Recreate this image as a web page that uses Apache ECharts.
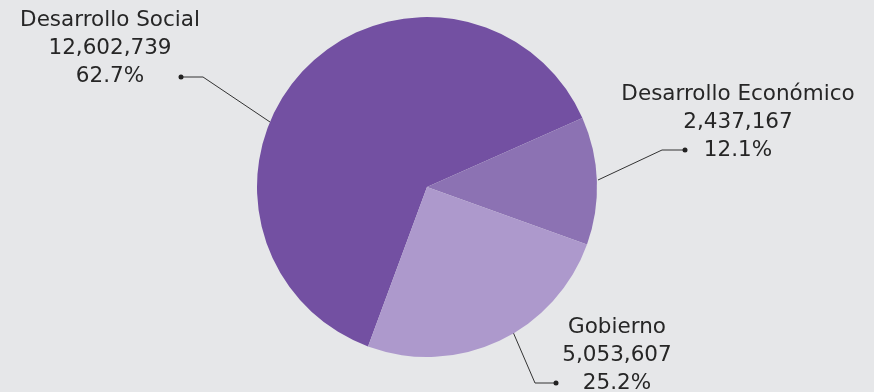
<!DOCTYPE html>
<html>
<head>
<meta charset="utf-8">
<script src="https://cdn.jsdelivr.net/npm/echarts@6/dist/echarts.min.js"></script>
<style>
  html, body { margin: 0; padding: 0; background: #e6e7e9; }
  #chart { width: 874px; height: 392px; }
</style>
</head>
<body>
<div id="chart"></div>
<script>
// Data
var categories = ['Desarrollo Social', 'Desarrollo Económico', 'Gobierno'];
var values = [12602739, 2437167, 5053607];
var colors = ['#7350a2', '#8c72b3', '#ad99cc'];

// label placement: line start, elbow, dot, text centre
var labelSpots = [
    { line: [[270, 122], [203, 77], [181, 77]], text: [110, 48] },
    { line: [[598, 180], [662, 150], [685, 150]], text: [738, 122] },
    { line: [[513, 332], [535, 383], [556, 383]], text: [617, 355] }
];

var total = values.reduce(function (a, b) { return a + b; }, 0);

var pieData = [];
for (var i = 0; i < categories.length; i++) {
    pieData.push({ name: categories[i], value: values[i], itemStyle: { color: colors[i] } });
}

var dots = labelSpots.map(function (s) {
    var p = s.line[2];
    return {
        type: 'circle',
        shape: { cx: p[0], cy: p[1], r: 2.5 },
        style: { fill: '#222' },
        z: 10
    };
});

var chart = echarts.init(document.getElementById('chart'));

var option = {
    backgroundColor: '#e6e7e9',
    animation: false,
    graphic: dots,
    series: [
        {
            type: 'pie',
            center: [427, 187],
            radius: 170,
            startAngle: 249.7,
            clockwise: true,
            data: pieData,
            label: {
                show: true,
                position: 'outside',
                overflow: 'none',
                color: '#262626',
                fontFamily: 'DejaVu Sans',
                fontSize: 21.5,
                lineHeight: 28,
                formatter: function (p) {
                    return p.name + '\n' + p.value.toLocaleString('en-US') + '\n' + (p.value / total * 100).toFixed(1) + '%';
                }
            },
            labelLine: {
                show: true,
                lineStyle: { color: '#333', width: 1 }
            },
            labelLayout: function (params) {
                var s = labelSpots[params.dataIndex];
                return {
                    x: s.text[0],
                    y: s.text[1],
                    align: 'center',
                    verticalAlign: 'middle',
                    labelLinePoints: s.line
                };
            }
        }
    ]
};

chart.setOption(option);
</script>
</body>
</html>
